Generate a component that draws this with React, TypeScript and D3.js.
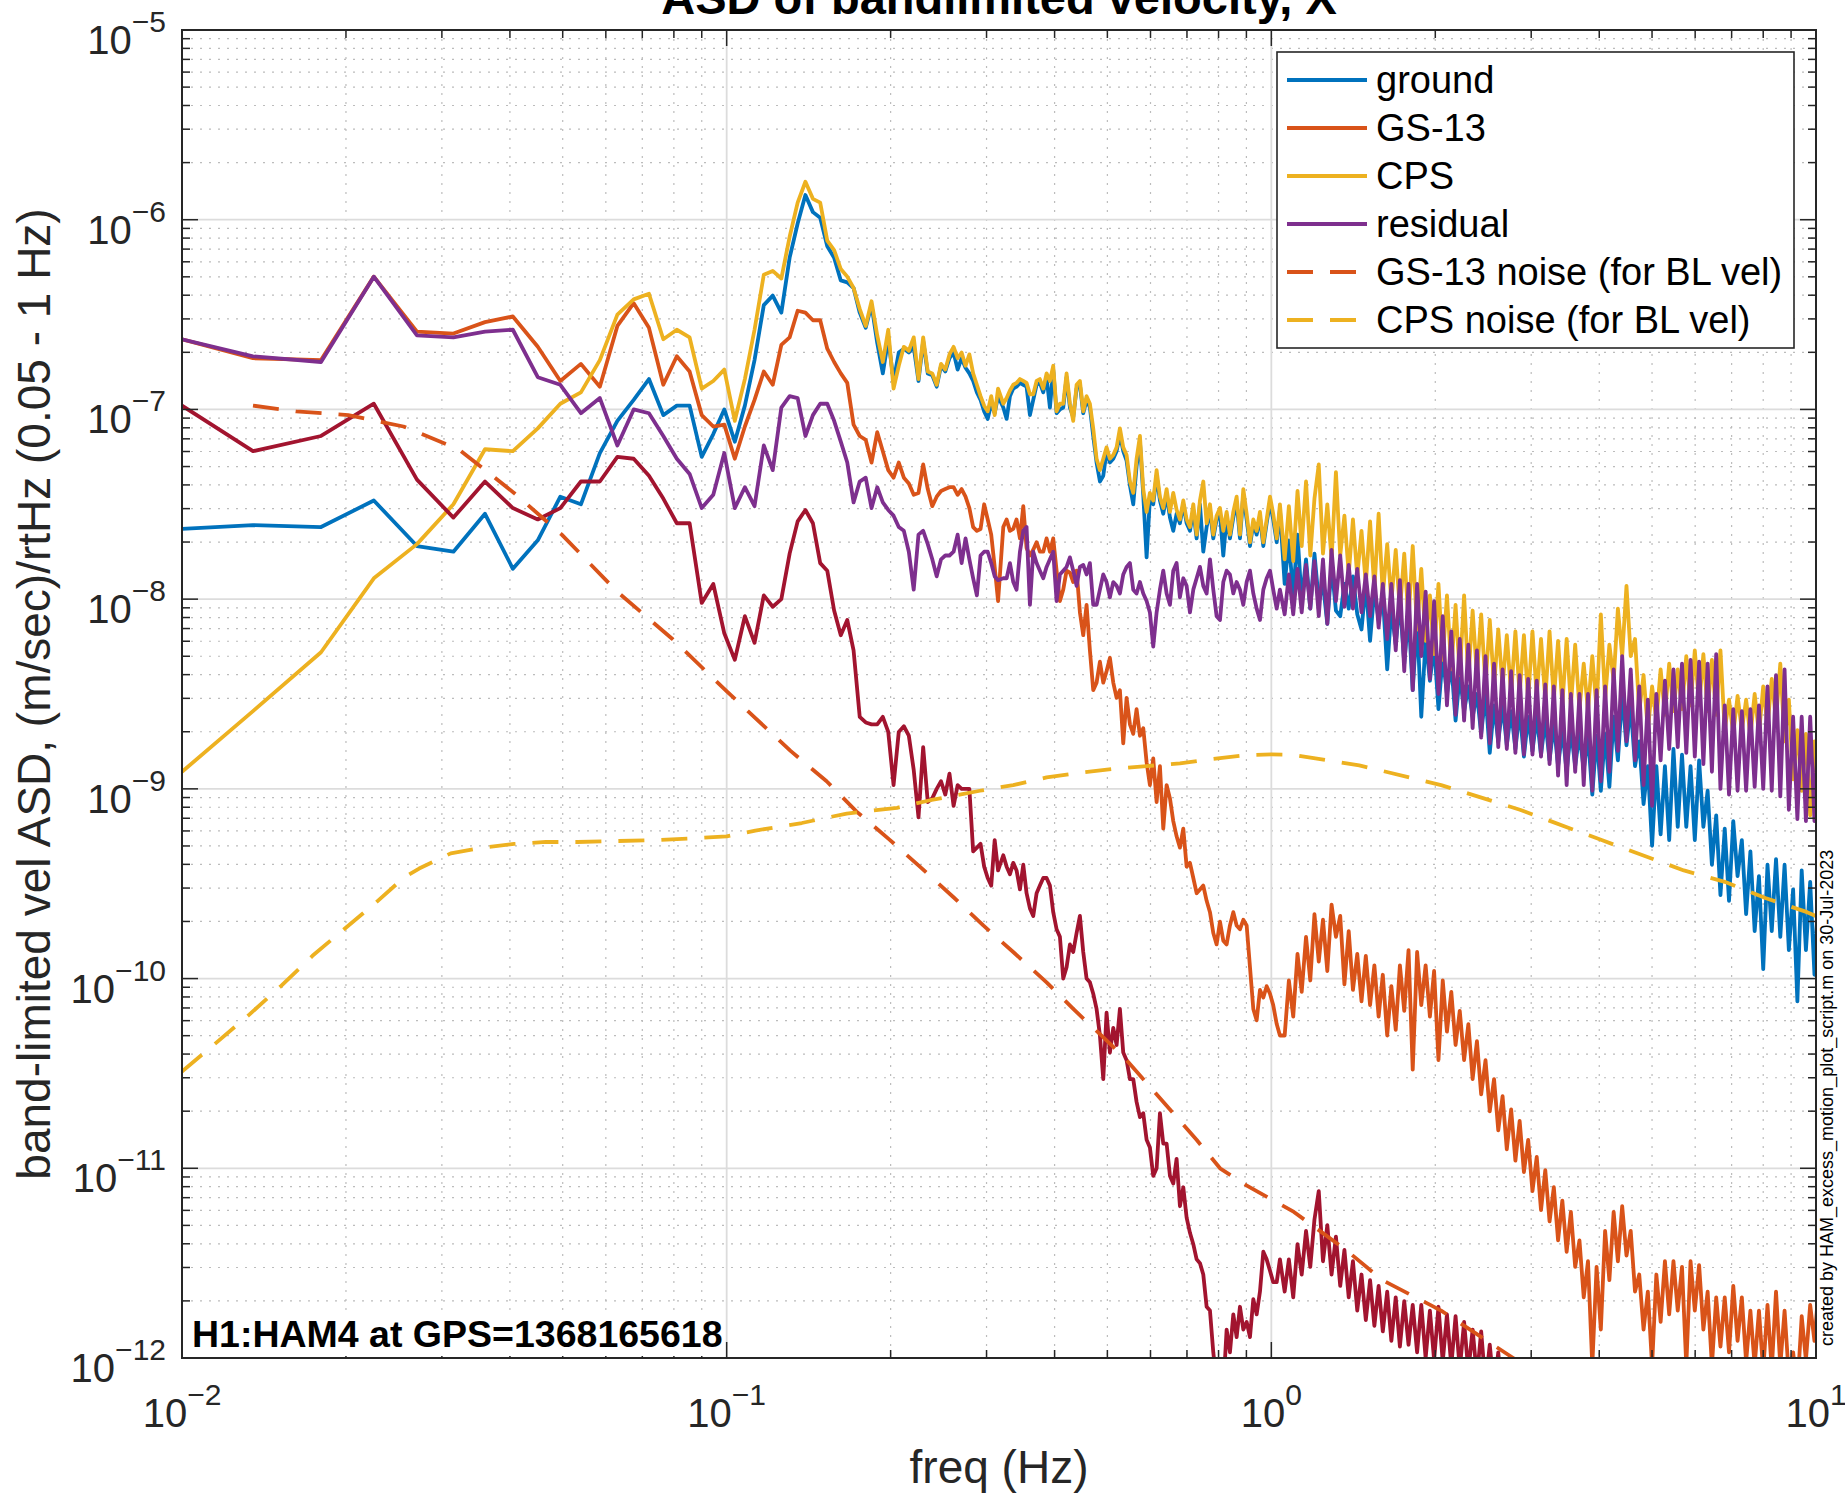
import React from "react";
import * as d3 from "d3";

// ---------- frequency grids (Hz) ----------
const freqLow = [0.01, 0.0135, 0.018, 0.0225, 0.027, 0.0315, 0.036, 0.0405, 0.045, 0.0495, 0.054, 0.0585, 0.063, 0.0675, 0.072, 0.0765, 0.081, 0.0855, 0.09, 0.0945, 0.099, 0.1035, 0.108, 0.1125, 0.117, 0.1215, 0.126, 0.1305, 0.135, 0.1395, 0.144, 0.1485, 0.153, 0.1575, 0.162, 0.1665, 0.171, 0.1755, 0.18, 0.1845, 0.189, 0.1935, 0.198, 0.2025, 0.207, 0.2115, 0.216, 0.2205, 0.225, 0.2295, 0.234, 0.2385, 0.243, 0.2475, 0.252, 0.2565, 0.261, 0.2655, 0.27, 0.2745, 0.279, 0.2835, 0.288, 0.2925, 0.297, 0.3015, 0.306, 0.3105, 0.315];
const freqMid = [0.322, 0.3266, 0.3312, 0.3359, 0.3406, 0.3455, 0.3504, 0.3553, 0.3604, 0.3655, 0.3707, 0.3759, 0.3813, 0.3867, 0.3922, 0.3977, 0.4034, 0.4091, 0.4149, 0.4208, 0.4268, 0.4328, 0.439, 0.4452, 0.4515, 0.4579, 0.4644, 0.471, 0.4777, 0.4845, 0.4914, 0.4983, 0.5054, 0.5126, 0.5199, 0.5272, 0.5347, 0.5423, 0.55, 0.5578, 0.5657, 0.5738, 0.5819, 0.5902, 0.5985, 0.607, 0.6157, 0.6244, 0.6333, 0.6423, 0.6514, 0.6606, 0.67, 0.6795, 0.6892, 0.699, 0.7089, 0.719, 0.7292, 0.7395, 0.75, 0.7607, 0.7715, 0.7824, 0.7935, 0.8048, 0.8162, 0.8278, 0.8395, 0.8515, 0.8636, 0.8758, 0.8883, 0.9009, 0.9137, 0.9266, 0.9398, 0.9531, 0.9667, 0.9804, 0.9943, 1.008, 1.023, 1.037];
const freqHigh = [1.058, 1.077, 1.097, 1.117, 1.137, 1.158, 1.179, 1.2, 1.222, 1.244, 1.267, 1.29, 1.314, 1.338, 1.362, 1.387, 1.412, 1.438, 1.464, 1.491, 1.518, 1.546, 1.574, 1.602, 1.632, 1.661, 1.692, 1.722, 1.754, 1.786, 1.818, 1.852, 1.885, 1.92, 1.955, 1.99, 2.027, 2.064, 2.101, 2.14, 2.179, 2.218, 2.259, 2.3, 2.342, 2.385, 2.428, 2.473, 2.518, 2.564, 2.61, 2.658, 2.706, 2.756, 2.806, 2.857, 2.909, 2.962, 3.016, 3.071, 3.127, 3.184, 3.242, 3.301, 3.361, 3.422, 3.485, 3.548, 3.613, 3.679, 3.746, 3.814, 3.884, 3.955, 4.027, 4.1, 4.175, 4.251, 4.328, 4.407, 4.488, 4.569, 4.653, 4.737, 4.824, 4.912, 5.001, 5.092, 5.185, 5.28, 5.376, 5.474, 5.574, 5.675, 5.779, 5.884, 5.991, 6.101, 6.212, 6.325, 6.44, 6.558, 6.677, 6.799, 6.923, 7.049, 7.178, 7.309, 7.442, 7.578, 7.716, 7.857, 8.0, 8.146, 8.294, 8.445, 8.599, 8.756, 8.916, 9.078, 9.243, 9.413, 9.583, 9.757, 9.935, 10.1];

// ---------- series values: log10 of ASD ((m/sec)/rtHz) ----------
const groundLow = [-7.63, -7.61, -7.62, -7.48, -7.72, -7.75, -7.55, -7.84, -7.69, -7.46, -7.5, -7.23, -7.06, -6.95, -6.84, -7.03, -6.98, -6.98, -7.25, -7.13, -7.0, -7.17, -6.98, -6.74, -6.45, -6.4, -6.49, -6.2, -6.02, -5.87, -5.96, -5.99, -6.14, -6.2, -6.32, -6.33, -6.36, -6.49, -6.57, -6.45, -6.65, -6.81, -6.63, -6.85, -6.7, -6.68, -6.7, -6.67, -6.85, -6.64, -6.81, -6.82, -6.88, -6.77, -6.8, -6.73, -6.7, -6.79, -6.73, -6.78, -6.81, -6.85, -6.91, -6.95, -7.01, -7.05, -6.97, -7.02, -6.93];
const groundMid = [-6.99, -7.05, -6.93, -6.89, -6.88, -6.86, -6.87, -6.88, -7.03, -6.95, -6.87, -6.86, -6.91, -6.83, -6.99, -6.79, -7.02, -7.0, -6.99, -6.83, -6.99, -7.04, -6.89, -6.87, -7.02, -6.95, -6.99, -7.14, -7.28, -7.38, -7.35, -7.22, -7.28, -7.26, -7.22, -7.13, -7.22, -7.27, -7.4, -7.5, -7.3, -7.17, -7.45, -7.78, -7.47, -7.5, -7.35, -7.48, -7.55, -7.45, -7.57, -7.64, -7.55, -7.6, -7.5, -7.6, -7.64, -7.53, -7.68, -7.5, -7.75, -7.62, -7.53, -7.68, -7.58, -7.55, -7.77, -7.57, -7.68, -7.57, -7.49, -7.68, -7.45, -7.58, -7.72, -7.6, -7.66, -7.57, -7.72, -7.6, -7.49, -7.58, -7.7, -7.53];
const groundHigh = [-7.92, -7.69, -7.98, -7.66, -8.01, -7.79, -8.05, -7.76, -8.01, -7.92, -8.13, -7.82, -8.06, -8.09, -7.92, -8.05, -7.88, -8.08, -8.16, -7.92, -8.22, -7.95, -8.11, -7.98, -8.37, -8.05, -8.24, -8.01, -8.34, -8.08, -8.48, -8.11, -8.62, -8.21, -8.43, -8.24, -8.58, -8.3, -8.5, -8.34, -8.64, -8.4, -8.59, -8.46, -8.62, -8.5, -8.71, -8.5, -8.81, -8.56, -8.75, -8.56, -8.77, -8.59, -8.79, -8.59, -8.83, -8.62, -8.8, -8.62, -8.82, -8.64, -8.85, -8.66, -8.88, -8.69, -8.91, -8.69, -8.88, -8.71, -8.9, -8.72, -9.03, -8.72, -9.01, -8.71, -8.99, -8.62, -8.85, -8.5, -8.77, -8.56, -8.88, -8.75, -9.08, -8.88, -9.3, -8.88, -9.24, -8.88, -9.27, -8.79, -9.2, -8.82, -9.2, -8.88, -9.27, -8.85, -9.2, -9.01, -9.4, -9.14, -9.56, -9.21, -9.59, -9.17, -9.46, -9.27, -9.66, -9.33, -9.75, -9.46, -9.95, -9.4, -9.75, -9.37, -9.78, -9.4, -9.85, -9.53, -10.12, -9.43, -9.85, -9.49, -9.98, -9.53];

const gs13Low = [-6.63, -6.73, -6.74, -6.3, -6.59, -6.6, -6.54, -6.51, -6.67, -6.85, -6.76, -6.88, -6.56, -6.44, -6.57, -6.87, -6.72, -6.8, -7.03, -7.09, -7.08, -7.26, -7.09, -6.95, -6.8, -6.87, -6.66, -6.62, -6.48, -6.49, -6.53, -6.53, -6.68, -6.75, -6.81, -6.86, -7.08, -7.14, -7.16, -7.28, -7.12, -7.22, -7.32, -7.36, -7.28, -7.36, -7.39, -7.45, -7.44, -7.29, -7.42, -7.51, -7.46, -7.43, -7.42, -7.41, -7.41, -7.45, -7.42, -7.46, -7.52, -7.62, -7.64, -7.63, -7.5, -7.58, -7.66, -7.83, -8.01];
const gs13Mid = [-7.62, -7.58, -7.64, -7.63, -7.58, -7.68, -7.51, -7.73, -7.77, -7.74, -7.7, -7.75, -7.75, -7.68, -7.75, -7.68, -7.85, -8.01, -7.95, -7.85, -7.86, -7.91, -7.85, -8.07, -8.19, -8.03, -8.27, -8.48, -8.44, -8.33, -8.44, -8.38, -8.31, -8.44, -8.52, -8.48, -8.76, -8.52, -8.66, -8.71, -8.58, -8.72, -8.68, -8.86, -8.98, -8.84, -9.07, -8.88, -9.21, -8.98, -9.05, -9.17, -9.25, -9.31, -9.21, -9.41, -9.39, -9.47, -9.55, -9.53, -9.51, -9.59, -9.65, -9.76, -9.82, -9.7, -9.8, -9.82, -9.72, -9.65, -9.72, -9.74, -9.69, -9.72, -9.94, -10.16, -10.22, -10.06, -10.1, -10.04, -10.08, -10.14, -10.24, -10.3];
const gs13High = [-10.3, -10.01, -10.2, -9.87, -10.07, -9.78, -10.01, -9.66, -9.91, -9.69, -9.96, -9.61, -9.78, -9.67, -10.03, -9.75, -10.06, -9.87, -10.12, -9.88, -10.14, -9.93, -10.2, -9.98, -10.3, -10.04, -10.27, -9.93, -10.17, -9.85, -10.48, -9.86, -10.14, -9.93, -10.2, -9.96, -10.43, -10.01, -10.28, -10.07, -10.35, -10.17, -10.43, -10.24, -10.53, -10.33, -10.61, -10.43, -10.7, -10.53, -10.8, -10.62, -10.9, -10.69, -10.96, -10.75, -11.02, -10.85, -11.12, -10.94, -11.22, -11.01, -11.28, -11.1, -11.38, -11.17, -11.44, -11.23, -11.52, -11.38, -11.68, -11.49, -12.04, -11.52, -11.85, -11.33, -11.59, -11.23, -11.49, -11.2, -11.46, -11.33, -11.65, -11.56, -11.85, -11.65, -12.04, -11.56, -11.81, -11.49, -11.77, -11.49, -11.75, -11.52, -12.04, -11.49, -11.75, -11.51, -11.85, -11.65, -12.04, -11.68, -11.94, -11.68, -11.97, -11.62, -11.91, -11.68, -12.02, -11.75, -12.04, -11.75, -12.07, -11.72, -12.06, -11.65, -12.04, -11.75, -12.1, -11.97, -12.17, -11.78, -12.01, -11.72, -11.91, -11.65];

const cpsLow = [-8.91, -8.59, -8.28, -7.89, -7.71, -7.5, -7.21, -7.22, -7.1, -6.97, -6.91, -6.74, -6.5, -6.42, -6.39, -6.63, -6.58, -6.62, -6.89, -6.85, -6.79, -7.06, -6.84, -6.58, -6.29, -6.27, -6.31, -6.09, -5.91, -5.8, -5.89, -5.91, -6.11, -6.16, -6.26, -6.3, -6.36, -6.47, -6.56, -6.43, -6.61, -6.75, -6.58, -6.89, -6.77, -6.67, -6.69, -6.62, -6.84, -6.62, -6.8, -6.81, -6.87, -6.76, -6.79, -6.71, -6.67, -6.73, -6.7, -6.77, -6.71, -6.81, -6.87, -6.93, -6.98, -7.01, -6.93, -7.03, -6.89];
const cpsMid = [-6.97, -6.94, -6.9, -6.87, -6.86, -6.84, -6.85, -6.86, -6.92, -6.92, -6.85, -6.84, -6.89, -6.81, -6.85, -6.77, -7.01, -6.97, -6.97, -6.81, -6.97, -7.06, -6.87, -6.85, -7.01, -6.93, -6.97, -7.1, -7.26, -7.32, -7.26, -7.2, -7.26, -7.24, -7.2, -7.1, -7.2, -7.24, -7.38, -7.44, -7.26, -7.14, -7.42, -7.54, -7.44, -7.48, -7.32, -7.46, -7.52, -7.42, -7.54, -7.44, -7.53, -7.58, -7.48, -7.58, -7.62, -7.5, -7.66, -7.48, -7.38, -7.6, -7.5, -7.66, -7.56, -7.52, -7.64, -7.54, -7.66, -7.54, -7.46, -7.66, -7.42, -7.55, -7.7, -7.58, -7.64, -7.54, -7.7, -7.58, -7.46, -7.55, -7.68, -7.5];
const cpsHigh = [-7.79, -7.51, -7.8, -7.43, -7.72, -7.38, -7.77, -7.47, -7.29, -7.76, -7.5, -7.79, -7.33, -7.77, -7.56, -7.87, -7.58, -7.88, -7.64, -7.92, -7.59, -7.95, -7.55, -7.98, -7.71, -8.01, -7.74, -8.06, -7.76, -8.11, -7.72, -8.16, -7.84, -8.22, -7.98, -8.29, -7.92, -8.32, -7.98, -8.37, -8.03, -8.4, -7.98, -8.42, -8.06, -8.4, -8.08, -8.45, -8.11, -8.46, -8.16, -8.46, -8.19, -8.5, -8.17, -8.5, -8.19, -8.53, -8.17, -8.51, -8.21, -8.53, -8.17, -8.53, -8.22, -8.56, -8.21, -8.56, -8.24, -8.58, -8.34, -8.59, -8.3, -8.58, -8.08, -8.53, -8.24, -8.43, -8.05, -8.3, -7.93, -8.3, -8.21, -8.59, -8.4, -8.69, -8.46, -8.64, -8.37, -8.61, -8.34, -8.59, -8.37, -8.58, -8.3, -8.56, -8.27, -8.56, -8.29, -8.59, -8.32, -8.61, -8.27, -8.69, -8.53, -8.71, -8.51, -8.69, -8.53, -8.72, -8.5, -8.71, -8.46, -8.67, -8.42, -8.64, -8.34, -8.75, -8.53, -8.95, -8.69, -9.01, -8.71, -9.14, -8.75, -9.08];

const residualLow = [-6.63, -6.72, -6.75, -6.3, -6.61, -6.62, -6.59, -6.58, -6.83, -6.87, -7.02, -6.94, -7.19, -7.0, -7.02, -7.14, -7.26, -7.34, -7.52, -7.45, -7.23, -7.52, -7.41, -7.51, -7.19, -7.32, -6.99, -6.93, -6.94, -7.14, -7.03, -6.97, -6.97, -7.06, -7.17, -7.28, -7.49, -7.38, -7.36, -7.52, -7.41, -7.49, -7.53, -7.56, -7.62, -7.64, -7.75, -7.95, -7.66, -7.64, -7.71, -7.79, -7.88, -7.79, -7.77, -7.77, -7.75, -7.66, -7.81, -7.68, -7.79, -7.89, -7.98, -7.77, -7.75, -7.75, -7.81, -7.88, -7.9];
const residualMid = [-7.89, -7.89, -7.81, -7.91, -7.95, -7.75, -7.64, -7.62, -8.03, -7.75, -7.81, -7.85, -7.89, -7.83, -7.79, -7.75, -8.01, -7.87, -7.85, -7.83, -7.78, -7.85, -7.93, -7.83, -7.82, -7.87, -7.81, -8.03, -8.03, -7.95, -7.87, -7.91, -7.99, -7.91, -7.93, -7.97, -7.87, -7.83, -7.81, -7.95, -7.97, -7.91, -7.97, -8.01, -8.07, -8.25, -8.07, -7.95, -7.85, -7.97, -8.03, -7.85, -7.81, -7.99, -7.89, -7.93, -8.07, -7.95, -7.89, -7.83, -7.93, -7.97, -7.79, -7.95, -8.09, -8.11, -7.91, -7.85, -7.87, -7.97, -7.91, -7.95, -8.03, -7.91, -7.85, -7.97, -8.05, -8.11, -7.95, -7.89, -7.85, -7.95, -8.05, -7.95];
const residualHigh = [-8.08, -7.87, -8.08, -7.84, -8.07, -7.82, -8.05, -7.8, -8.09, -7.79, -8.13, -7.74, -8.01, -7.77, -8.04, -7.82, -8.05, -7.84, -8.07, -7.87, -8.09, -7.88, -8.15, -7.92, -8.21, -7.92, -8.27, -7.9, -8.38, -7.92, -8.48, -7.92, -8.3, -7.96, -8.42, -8.01, -8.5, -8.09, -8.56, -8.17, -8.61, -8.21, -8.64, -8.24, -8.68, -8.27, -8.73, -8.3, -8.76, -8.34, -8.78, -8.37, -8.79, -8.38, -8.81, -8.4, -8.82, -8.42, -8.82, -8.43, -8.83, -8.45, -8.87, -8.46, -8.93, -8.48, -8.98, -8.5, -8.91, -8.5, -8.98, -8.5, -9.01, -8.48, -8.96, -8.46, -8.91, -8.37, -8.8, -8.3, -8.75, -8.37, -8.85, -8.46, -8.98, -8.53, -9.09, -8.5, -8.85, -8.43, -8.79, -8.37, -8.78, -8.34, -8.81, -8.32, -8.83, -8.33, -8.87, -8.34, -8.91, -8.29, -9.0, -8.56, -9.03, -8.58, -9.01, -8.59, -9.01, -8.58, -8.99, -8.56, -9.0, -8.46, -9.01, -8.4, -9.04, -8.37, -9.11, -8.62, -9.16, -8.62, -9.17, -8.62, -9.17, -8.62];

const darkRedLow = [-6.98, -7.22, -7.14, -6.97, -7.37, -7.57, -7.38, -7.52, -7.58, -7.52, -7.38, -7.38, -7.25, -7.26, -7.35, -7.47, -7.6, -7.6, -8.02, -7.92, -8.18, -8.32, -8.09, -8.23, -7.98, -8.04, -8.0, -7.76, -7.59, -7.53, -7.6, -7.81, -7.85, -8.06, -8.19, -8.11, -8.27, -8.62, -8.65, -8.66, -8.66, -8.62, -8.7, -8.98, -8.7, -8.67, -8.72, -8.9, -9.15, -8.78, -9.07, -9.05, -9.0, -8.96, -9.03, -8.92, -9.09, -8.98, -9.0, -9.0, -9.0, -9.33, -9.31, -9.29, -9.41, -9.47, -9.51, -9.27, -9.43];
const darkRedMid = [-9.35, -9.41, -9.45, -9.39, -9.43, -9.53, -9.4, -9.55, -9.63, -9.67, -9.55, -9.51, -9.47, -9.47, -9.51, -9.65, -9.74, -9.78, -10.0, -9.94, -9.82, -9.86, -9.76, -9.67, -9.86, -10.0, -10.02, -10.08, -10.16, -10.3, -10.53, -10.18, -10.39, -10.26, -10.35, -10.16, -10.39, -10.43, -10.53, -10.53, -10.65, -10.73, -10.71, -10.85, -10.89, -11.04, -11.0, -10.71, -10.87, -10.87, -11.04, -11.08, -10.95, -11.2, -11.1, -11.26, -11.34, -11.4, -11.48, -11.5, -11.56, -11.73, -11.75, -11.97, -12.13, -12.21, -12.17, -11.85, -11.97, -11.77, -11.89, -11.73, -11.85, -11.81, -11.89, -11.69, -11.77, -11.65, -11.44, -11.48, -11.54, -11.6, -11.6, -11.48];
const darkRedHigh = [-11.65, -11.48, -11.68, -11.4, -11.56, -11.33, -11.52, -11.27, -11.12, -11.49, -11.3, -11.56, -11.36, -11.62, -11.43, -11.68, -11.49, -11.75, -11.56, -11.8, -11.59, -11.83, -11.62, -11.86, -11.65, -11.91, -11.68, -11.94, -11.7, -11.93, -11.72, -11.97, -11.72, -12.0, -11.75, -12.01, -11.73, -12.02, -11.77, -12.04, -11.78, -12.06, -11.81, -12.07, -11.85, -12.1, -11.86, -12.14, -11.93, -12.17, -11.97, -12.23];

const gs13NoiseFreq = [0.0135, 0.0162, 0.0202, 0.0255, 0.0322, 0.0407, 0.0498, 0.0629, 0.0795, 0.1004, 0.131, 0.1526, 0.1732, 0.1995, 0.2263, 0.2606, 0.2959, 0.3358, 0.3867, 0.4329, 0.5349, 0.5902, 0.6606, 0.729, 0.805, 0.9, 1.1, 1.37, 1.6, 2.05, 2.78, 3.0];
const gs13NoiseLog = [-6.98, -7.01, -7.03, -7.09, -7.21, -7.44, -7.66, -7.96, -8.21, -8.49, -8.8, -8.96, -9.12, -9.27, -9.41, -9.57, -9.72, -9.86, -10.02, -10.16, -10.41, -10.55, -10.71, -10.85, -11.0, -11.09, -11.23, -11.43, -11.59, -11.75, -12.0, -12.06];
const cpsNoiseFreq = [0.01, 0.01143, 0.01329, 0.01519, 0.01736, 0.01984, 0.02268, 0.0255, 0.02725, 0.03115, 0.03561, 0.04072, 0.04655, 0.0532, 0.0629, 0.0743, 0.0879, 0.1, 0.1129, 0.1374, 0.1661, 0.2055, 0.2364, 0.2917, 0.3358, 0.3867, 0.4452, 0.5127, 0.5902, 0.6796, 0.7824, 0.9007, 1.0, 1.09, 1.45, 2.05, 2.86, 4.04, 5.72, 6.8, 8.07, 9.63, 10.0];
const cpsNoiseLog = [-10.49, -10.35, -10.19, -10.04, -9.88, -9.74, -9.6, -9.47, -9.42, -9.34, -9.31, -9.29, -9.28, -9.28, -9.275, -9.27, -9.26, -9.25, -9.22, -9.18, -9.13, -9.1, -9.06, -9.01, -8.98, -8.94, -8.915, -8.895, -8.88, -8.866, -8.842, -8.822, -8.818, -8.82, -8.876, -8.98, -9.11, -9.27, -9.43, -9.49, -9.575, -9.65, -9.67];

const xTickExps = [-2, -1, 0, 1];
const yTickExps = [-12, -11, -10, -9, -8, -7, -6, -5];
const legendLabels = ["ground", "GS-13", "CPS", "residual", "GS-13 noise (for BL vel)", "CPS noise (for BL vel)"];

const FONT = "'Liberation Sans', Arial, Helvetica, sans-serif";
const C = { blue: "#0072BD", orange: "#D95319", yellow: "#EDB120", purple: "#7E2F8E", red: "#A2142F" };
const LW = 3.8;

type P = [number, number];
function toPoints(f: number[], v: number[]): P[] {
  const n = Math.min(f.length, v.length);
  const out: P[] = [];
  for (let i = 0; i < n; i++) out.push([f[i], Math.pow(10, v[i])]);
  return out;
}
function join(...segs: P[][]): P[] {
  return ([] as P[]).concat(...segs);
}

export default function App() {
  const L = 182, R = 1816, T = 30, B = 1358;
  const x = d3.scaleLog().domain([0.01, 10]).range([L, R]);
  const y = d3.scaleLog().domain([1e-12, 1e-5]).range([B, T]);
  const line = d3.line<P>().x((d) => x(d[0])).y((d) => y(d[1]));

  const series = [
    { key: "ground", color: C.blue, dash: null, pts: join(toPoints(freqLow, groundLow), toPoints(freqMid, groundMid), toPoints(freqHigh, groundHigh)) },
    { key: "gs13", color: C.orange, dash: null, pts: join(toPoints(freqLow, gs13Low), toPoints(freqMid, gs13Mid), toPoints(freqHigh, gs13High)) },
    { key: "cps", color: C.yellow, dash: null, pts: join(toPoints(freqLow, cpsLow), toPoints(freqMid, cpsMid), toPoints(freqHigh, cpsHigh)) },
    { key: "residual", color: C.purple, dash: null, pts: join(toPoints(freqLow, residualLow), toPoints(freqMid, residualMid), toPoints(freqHigh, residualHigh)) },
    { key: "darkred", color: C.red, dash: null, pts: join(toPoints(freqLow, darkRedLow), toPoints(freqMid, darkRedMid), toPoints(freqHigh, darkRedHigh)) },
    { key: "gs13noise", color: C.orange, dash: "26 17", pts: toPoints(gs13NoiseFreq, gs13NoiseLog) },
    { key: "cpsnoise", color: C.yellow, dash: "26 17", pts: toPoints(cpsNoiseFreq, cpsNoiseLog) },
  ];

  const xMinor: number[] = [];
  for (let e = -2; e <= 0; e++) for (let m = 2; m <= 9; m++) xMinor.push(m * Math.pow(10, e));
  const yMinor: number[] = [];
  for (let e = -12; e <= -6; e++) for (let m = 2; m <= 9; m++) yMinor.push(m * Math.pow(10, e));
  const xMajor = xTickExps.map((e) => Math.pow(10, e));
  const yMajor = yTickExps.map((e) => Math.pow(10, e));

  const axisColor = "#262626";
  const legendItems = [
    { label: legendLabels[0], color: C.blue, dash: null },
    { label: legendLabels[1], color: C.orange, dash: null },
    { label: legendLabels[2], color: C.yellow, dash: null },
    { label: legendLabels[3], color: C.purple, dash: null },
    { label: legendLabels[4], color: C.orange, dash: "26 17" },
    { label: legendLabels[5], color: C.yellow, dash: "26 17" },
  ];

  const supText = (e: number) => (e < 0 ? "\u2212" + String(-e) : String(e));

  return (
    <div style={{ position: "absolute", left: 0, top: 0 }}>
      <svg width={1845} height={1495} viewBox="0 0 1845 1495" style={{ display: "block", background: "#fff" }} fontFamily={FONT}>
        <defs>
          <clipPath id="plotClip">
            <rect x={L} y={T} width={R - L} height={B - T} />
          </clipPath>
        </defs>
        <rect x={0} y={0} width={1845} height={1495} fill="#fff" />
        <rect x={L} y={T} width={R - L} height={B - T} fill="#fff" />

        {/* minor grid */}
        <g stroke="#bcbcbc" strokeWidth={1.2} strokeDasharray="2 7">
          {xMinor.map((f, i) => (
            <line key={"xm" + i} x1={x(f)} x2={x(f)} y1={T} y2={B} />
          ))}
          {yMinor.map((v, i) => (
            <line key={"ym" + i} x1={L} x2={R} y1={y(v)} y2={y(v)} />
          ))}
        </g>
        {/* major grid */}
        <g stroke="#dcdcdc" strokeWidth={1.8}>
          {xMajor.slice(1, -1).map((f, i) => (
            <line key={"xM" + i} x1={x(f)} x2={x(f)} y1={T} y2={B} />
          ))}
          {yMajor.slice(1, -1).map((v, i) => (
            <line key={"yM" + i} x1={L} x2={R} y1={y(v)} y2={y(v)} />
          ))}
        </g>

        {/* data */}
        <g clipPath="url(#plotClip)" fill="none" strokeLinejoin="round" strokeLinecap="butt">
          {series.map((s) => (
            <path key={s.key} d={line(s.pts) || ""} stroke={s.color} strokeWidth={LW} strokeDasharray={s.dash || undefined} />
          ))}
        </g>

        {/* ticks */}
        <g stroke={axisColor} strokeWidth={1.5}>
          {xMinor.map((f, i) => (
            <g key={"xt" + i}>
              <line x1={x(f)} x2={x(f)} y1={B} y2={B - 8} />
              <line x1={x(f)} x2={x(f)} y1={T} y2={T + 8} />
            </g>
          ))}
          {xMajor.map((f, i) => (
            <g key={"xT" + i}>
              <line x1={x(f)} x2={x(f)} y1={B} y2={B - 16} />
              <line x1={x(f)} x2={x(f)} y1={T} y2={T + 16} />
            </g>
          ))}
          {yMinor.map((v, i) => (
            <g key={"yt" + i}>
              <line x1={L} x2={L + 8} y1={y(v)} y2={y(v)} />
              <line x1={R} x2={R - 8} y1={y(v)} y2={y(v)} />
            </g>
          ))}
          {yMajor.map((v, i) => (
            <g key={"yT" + i}>
              <line x1={L} x2={L + 16} y1={y(v)} y2={y(v)} />
              <line x1={R} x2={R - 16} y1={y(v)} y2={y(v)} />
            </g>
          ))}
        </g>
        <rect x={L} y={T} width={R - L} height={B - T} fill="none" stroke={axisColor} strokeWidth={2} />

        {/* tick labels */}
        <g fill={axisColor}>
          {xTickExps.map((e) => (
            <text key={"xl" + e} x={x(Math.pow(10, e))} y={B + 69} fontSize={40} textAnchor="middle">
              10<tspan dy={-22} fontSize={30}>{supText(e)}</tspan>
            </text>
          ))}
          {yTickExps.map((e) => (
            <text key={"yl" + e} x={L - 16} y={y(Math.pow(10, e)) + 24} fontSize={40} textAnchor="end">
              10<tspan dy={-22} fontSize={30}>{supText(e)}</tspan>
            </text>
          ))}
        </g>

        {/* axis labels & title */}
        <text x={(L + R) / 2} y={1483} fontSize={46} textAnchor="middle" fill={axisColor}>freq (Hz)</text>
        <text transform={`translate(50, ${(T + B) / 2}) rotate(-90)`} fontSize={46} textAnchor="middle" fill={axisColor}>
          band-limited vel ASD, (m/sec)/rtHz (0.05 - 1 Hz)
        </text>
        <text x={(L + R) / 2} y={14} fontSize={47} fontWeight="bold" textAnchor="middle" fill="#000">
          ASD of bandlimited velocity, X
        </text>

        {/* annotation */}
        <rect x={185} y={1312} width={538} height={44} fill="#fff" />
        <text x={192} y={1347} fontSize={37.5} fontWeight="bold" fill="#000">H1:HAM4 at GPS=1368165618</text>

        {/* created by */}
        <text transform="translate(1833, 1346) rotate(-90)" fontSize={18} fill="#000">
          created by HAM_excess_motion_plot_script.m on 30-Jul-2023
        </text>

        {/* legend */}
        <rect x={1277} y={52} width={517} height={296} fill="#fff" stroke={axisColor} strokeWidth={1.6} />
        {legendItems.map((it, i) => {
          const cy = 80 + i * 48;
          return (
            <g key={"lg" + i}>
              <line x1={1287} x2={1367} y1={cy} y2={cy} stroke={it.color} strokeWidth={LW} strokeDasharray={it.dash || undefined} />
              <text x={1376} y={cy + 13} fontSize={38} fill="#000">{it.label}</text>
            </g>
          );
        })}
      </svg>
    </div>
  );
}
